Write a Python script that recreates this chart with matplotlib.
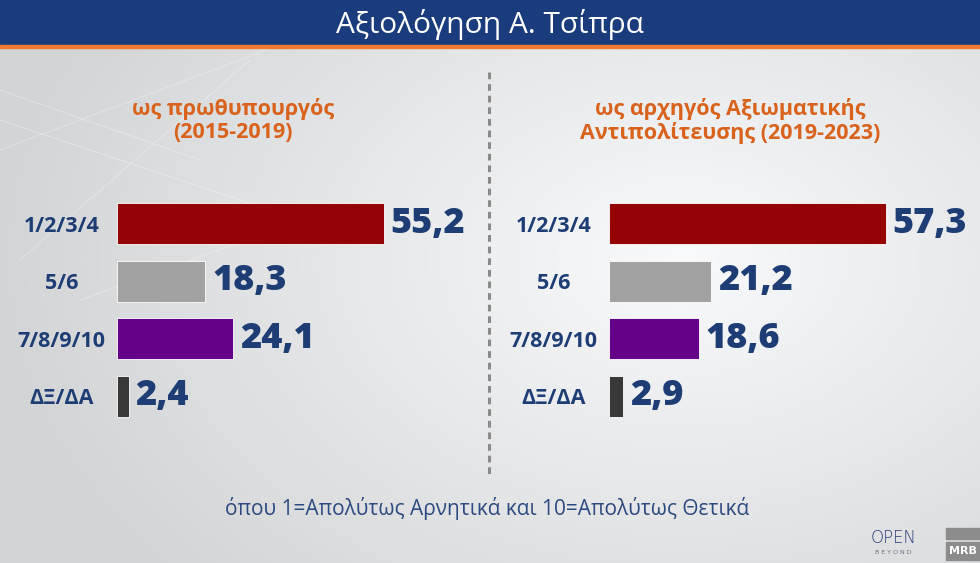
import matplotlib.pyplot as plt
import numpy as np
from matplotlib.patches import Rectangle

categories = ['1/2/3/4', '5/6', '7/8/9/10', 'ΔΞ/ΔΑ']
pm_values = [55.2, 18.3, 24.1, 2.4]
opp_values = [57.3, 21.2, 18.6, 2.9]
bar_colors = ['#940404', '#a2a2a2', '#650088', '#383838']
title = 'Αξιολόγηση Α. Τσίπρα'
pm_subtitle = ['ως πρωθυπουργός', '(2015-2019)']
opp_subtitle = ['ως αρχηγός Αξιωματικής', 'Αντιπολίτευσης (2019-2023)']
note = 'όπου 1=Απολύτως Αρνητικά και 10=Απολύτως Θετικά'

W, H = 980, 563
NAVY = '#1f3d75'
ORANGE = '#d9621c'
fig = plt.figure(figsize=(9.8, 5.63), dpi=100)


def px(x0, y0, x1, y1):
    # pixel box (top-left origin) -> figure rect
    return [x0 / W, 1 - y1 / H, (x1 - x0) / W, (y1 - y0) / H]


# background: soft grey gradient, banner, divider
bg = fig.add_axes([0, 0, 1, 1])
bg.set_xlim(0, W)
bg.set_ylim(H, 0)
bg.axis('off')
yy, xx = np.mgrid[0:H, 0:W]
d = np.sqrt(((xx - 680) / 650) ** 2 + ((yy - 260) / 450) ** 2)
shade = np.clip(0.975 - 0.14 * d, 0.83, 0.98)
bg.imshow(np.dstack([shade, shade + 0.005, shade + 0.01]).clip(0, 1),
          extent=[0, W, H, 0], aspect='auto', zorder=0)
for x0, y0, x1, y1 in [(0, 150, 280, 45), (20, 260, 250, 60), (0, 120, 300, 220),
                       (80, 300, 330, 210), (0, 90, 200, 160)]:
    bg.plot([x0, x1], [y0, y1], color='white', lw=0.7, alpha=0.3, zorder=1)
bg.add_patch(Rectangle((0, 0), W, 45, color='#1a3c7c', zorder=2))
bg.add_patch(Rectangle((0, 45), W, 3, color='#f07a2e', zorder=2))
bg.plot([489, 489], [72, 478], color='#8a8a8a', lw=2.2, ls=(0, (2.2, 1.6)), zorder=2)

# logos
bg.text(893, 538, 'OPEN', color='#2b3f7a', fontsize=12, ha='center', va='center',
        family='DejaVu Sans', fontweight='light')
bg.text(893, 552, 'B E Y O N D', color='#6a6f80', fontsize=4.5, ha='center', va='center')
bg.add_patch(Rectangle((946, 528), 34, 11, color='#8c8c8c', zorder=2))
bg.add_patch(Rectangle((946, 542), 34, 18, color='#8c8c8c', zorder=2))
bg.text(963, 551, 'MRB', color='white', fontsize=8, fontweight='bold',
        ha='center', va='center', zorder=3)

fig.text(0.5, 1 - 24 / H, title, color='white', fontsize=21.5, ha='center', va='center',
         family='Open Sans')
fig.text(487 / W, 1 - 509 / H, note, color='#2c4a80', fontsize=15, ha='center',
         va='center', family='Open Sans')


def panel(rect, values, subtitle, cx):
    ax = fig.add_axes(rect)
    ax.patch.set_alpha(0)
    y = np.arange(len(categories))
    ax.barh(y, values, height=0.72, color=bar_colors, edgecolor='white', linewidth=0.6)
    ax.set_xlim(0, 71)
    ax.set_ylim(len(categories) - 0.5, -0.5)
    ax.set_xticks([])
    ax.set_yticks(y, categories)
    ax.tick_params(axis='y', length=0, pad=40)
    for lbl in ax.get_yticklabels():
        lbl.set_ha('center')
        lbl.set_color(NAVY)
        lbl.set_fontsize(15.5)
        lbl.set_fontweight('bold')
        lbl.set_family('Open Sans')
    for s in ax.spines.values():
        s.set_visible(False)
    for i, v in enumerate(values):
        ax.annotate(f'{v:.1f}'.replace('.', ','), xy=(v, i), xytext=(5, 0),
                    textcoords='offset points', ha='left', va='center',
                    color=NAVY, fontsize=26, fontweight='heavy', family='Open Sans')
    for k, line in enumerate(subtitle):
        fig.text(cx / W, 1 - (109 + 24 * k) / H, line, color=ORANGE, fontsize=15.5,
                 fontweight='bold', ha='center', va='center', family='Open Sans')
    return ax


panel(px(117, 195, 460, 425), pm_values, pm_subtitle, 233)
panel(px(609, 195, 952, 425), opp_values, opp_subtitle, 730)

fig.savefig('out.png', dpi=100)
